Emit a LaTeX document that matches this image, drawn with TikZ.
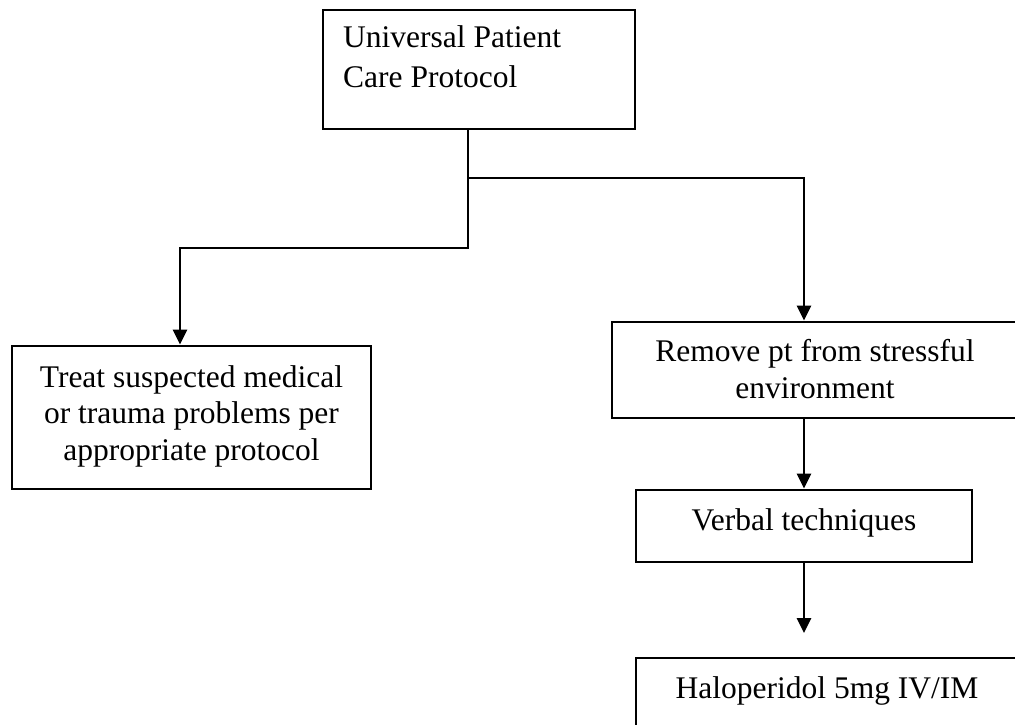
\documentclass[tikz,border=0pt]{standalone}
\usepackage{fontspec}
\setmainfont{Liberation Serif}
\usetikzlibrary{arrows.meta}
\begin{document}
\begin{tikzpicture}[x=1pt,y=-1pt,
  box/.style={draw,line width=2.8pt,inner sep=0pt,rectangle},
  label/.style={inner sep=0pt,anchor=base,font=\fontsize{31.5}{36.5}\selectfont},
  link/.style={line width=2.8pt},
  flow/.style={link,-{Triangle[width=14pt,length=15pt]}}]
\useasboundingbox (0,0) rectangle (1015,725);
\clip (0,0) rectangle (1015,725);
% boxes
\node[box,minimum width=312pt,minimum height=119pt] (upc) at (479,69.5) {};
\node[box,minimum width=359pt,minimum height=143pt] (treat) at (191.5,417.5) {};
\node[box,minimum width=406pt,minimum height=96pt] (remove) at (815,370) {};
\node[box,minimum width=336pt,minimum height=72pt] (verbal) at (804,526) {};
\node[box,minimum width=382pt,minimum height=120pt] (halo) at (827,718) {};
% texts (anchored on the baseline of their last line)
\node[label,align=left,anchor=base west,font=\fontsize{31.5}{40}\selectfont] (upctext) at (343,88) {Universal Patient\\Care Protocol};
\node[label,align=center] (treattext) at (191.5,460) {Treat suspected medical\\or trauma problems per\\appropriate protocol};
\node[label,align=center] (removetext) at (815,398) {Remove pt from stressful\\environment};
\node[label] (verbaltext) at (804,530) {Verbal techniques};
\node[label] (halotext) at (827,698) {Haloperidol 5mg IV/IM};
% connectors
\coordinate (split) at (468,178);
\coordinate (bend) at (468,248);
\coordinate (haloend) at (804,633);
\draw[flow] (upc.south -| split) -- (bend) -| (treat.north -| 180,0);
\draw[flow] (split) -| (remove.north -| verbal.north);
\draw[flow] (remove.south -| verbal.north) -- (verbal.north);
\draw[flow] (verbal.south) -- (haloend);
\end{tikzpicture}
\end{document}
